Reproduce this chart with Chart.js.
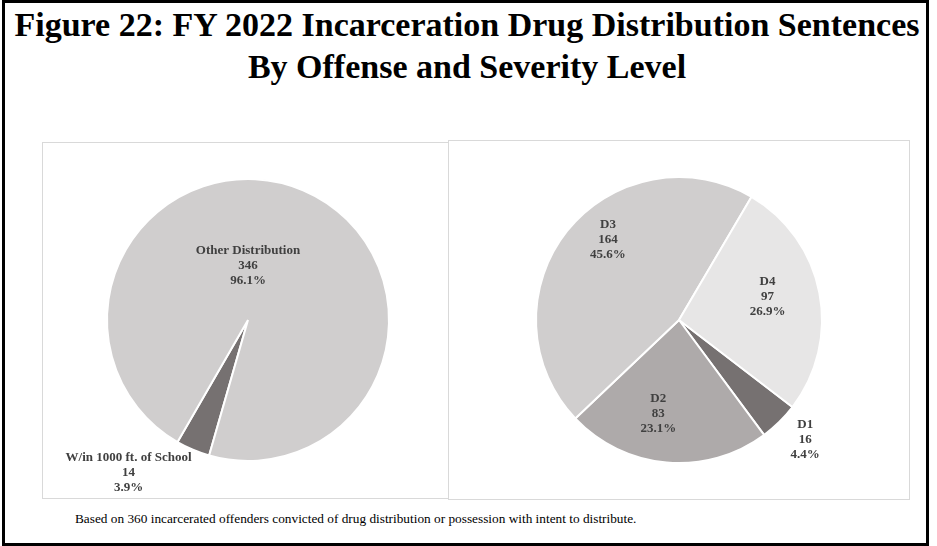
<!DOCTYPE html>
<html>
<head>
<meta charset="utf-8">
<script src="https://cdn.jsdelivr.net/npm/chart.js@4.4.1/dist/chart.umd.min.js"></script>
<style>
  html, body { margin: 0; padding: 0; background: #fff; }
  body { width: 937px; height: 546px; position: relative; overflow: hidden; font-family: 'Liberation Serif', 'Times New Roman', serif; }
  .frame { position: absolute; left: 2px; top: 0; width: 921px; height: 540px; border: 3px solid #000; }
  .title { position: absolute; left: 0; top: 3.5px; width: 934px; text-align: center; font-size: 34px; font-weight: bold; line-height: 42px; color: #000; }
  .box { position: absolute; border: 1px solid #d9d9d9; box-sizing: border-box; background: #fff; }
  .box canvas { position: absolute; left: 0; top: 0; }
  #leftBox { left: 42px; top: 142px; width: 407px; height: 357px; }
  #rightBox { left: 448px; top: 140px; width: 462px; height: 360px; }
  .note { position: absolute; left: 75px; top: 511px; font-size: 13.3px; line-height: 15px; color: #000; }
</style>
</head>
<body>
<div class="frame"></div>
<div class="title">Figure 22: FY 2022 Incarceration Drug Distribution Sentences<br>By Offense and Severity Level</div>
<div class="box" id="leftBox"><canvas id="offenseChart" width="405" height="355"></canvas></div>
<div class="box" id="rightBox"><canvas id="severityChart" width="460" height="358"></canvas></div>
<div class="note">Based on 360 incarcerated offenders convicted of drug distribution or possession with intent to distribute.</div>

<script>
// offenses
const offenseLabels = ['W/in 1000 ft. of School', 'Other Distribution'];
const offenseCounts = [14, 346];
const offensePercents = ['3.9%', '96.1%'];

// severity levels
const severityLabels = ['D1', 'D2', 'D3', 'D4'];
const severityCounts = [16, 83, 164, 97];
const severityPercents = ['4.4%', '23.1%', '45.6%', '26.9%'];

// label placement per slice: distance from centre (share of radius) and turn off the mid angle (deg)
const sliceLabels = {
  id: 'sliceLabels',
  afterDatasetsDraw(chart, args, opts) {
    const ctx = chart.ctx;
    const ds = chart.data.datasets[0];
    const arcs = chart.getDatasetMeta(0).data;
    ctx.save();
    ctx.font = 'bold 13px "Liberation Serif", "Times New Roman", serif';
    ctx.fillStyle = '#404040';
    ctx.textAlign = 'center';
    ctx.textBaseline = 'middle';
    arcs.forEach((arc, i) => {
      const p = arc.getProps(['x', 'y', 'startAngle', 'endAngle', 'outerRadius'], true);
      const mid = (p.startAngle + p.endAngle) / 2 + opts.turn[i] * Math.PI / 180;
      const d = opts.dist[i] * p.outerRadius;
      const cx = p.x + Math.cos(mid) * d;
      const cy = p.y + Math.sin(mid) * d;
      const lines = [chart.data.labels[i], String(ds.data[i]), opts.percents[i]];
      lines.forEach((t, k) => ctx.fillText(t, cx, cy + (k - 1) * 15));
    });
    ctx.restore();
  }
};

function pieOptions(rotation, padding, labelOpts) {
  return {
    responsive: false,
    animation: false,
    rotation: rotation,
    layout: { padding: padding },
    events: [],
    plugins: {
      legend: { display: false },
      tooltip: { enabled: false },
      sliceLabels: labelOpts
    }
  };
}

new Chart(document.getElementById('offenseChart'), {
  type: 'pie',
  data: {
    labels: offenseLabels,
    datasets: [{
      data: offenseCounts,
      backgroundColor: ['#767171', '#d0cece'],
      borderColor: '#ffffff',
      borderWidth: 2,
      hoverOffset: 0
    }]
  },
  options: pieOptions(196, { left: 63, top: 35, right: 58, bottom: 36 }, {
    percents: offensePercents,
    dist: [1.376, 0.383],
    turn: [15, -23]
  }),
  plugins: [sliceLabels]
});

new Chart(document.getElementById('severityChart'), {
  type: 'pie',
  data: {
    labels: severityLabels,
    datasets: [{
      data: severityCounts,
      backgroundColor: ['#767171', '#aeaaaa', '#d0cece', '#e7e6e6'],
      borderColor: '#ffffff',
      borderWidth: 2,
      hoverOffset: 0
    }]
  },
  options: pieOptions(127.5, { left: 86, top: 35, right: 86, bottom: 35 }, {
    percents: severityPercents,
    dist: [1.217, 0.67, 0.75, 0.64],
    turn: [-2, 7.5, 10, -3.7]
  }),
  plugins: [sliceLabels]
});
</script>
</body>
</html>
